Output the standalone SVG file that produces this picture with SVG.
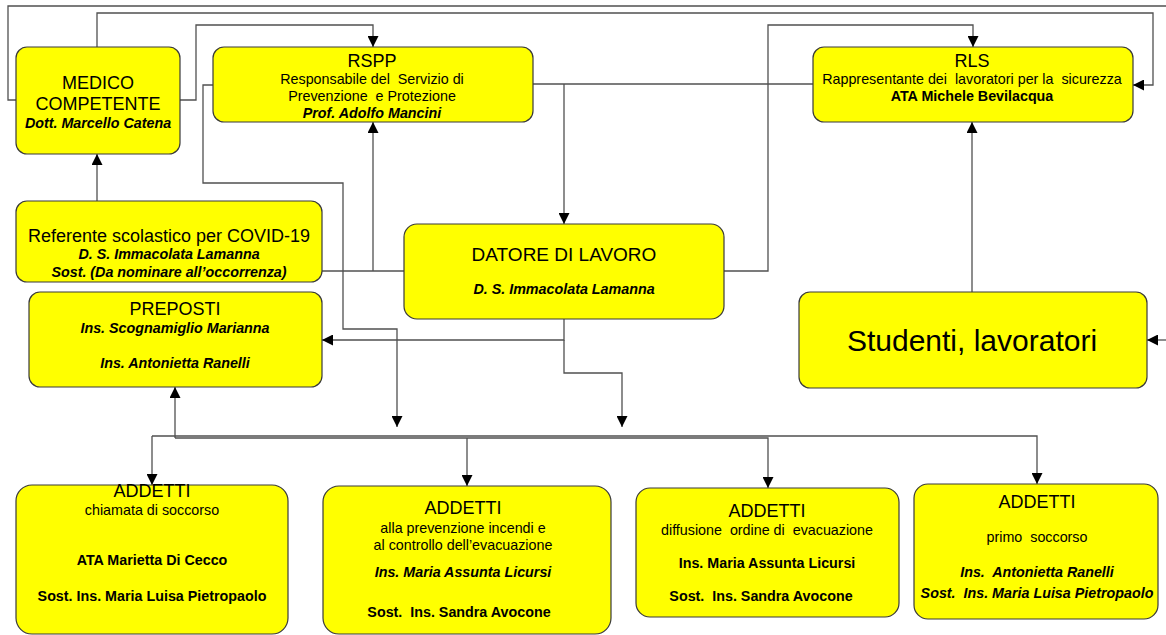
<svg xmlns="http://www.w3.org/2000/svg" width="1166" height="635" viewBox="0 0 1166 635">
<style>
.box{fill:#ffff00;stroke:#3a3a3a;stroke-width:1.2}
.ln{fill:none;stroke:#505050;stroke-width:1.3}
.ar{marker-end:url(#arr)}
text{font-family:"Liberation Sans",Arial,sans-serif;fill:#000;text-anchor:middle}
.h{font-size:18px}
.s{font-size:14.3px}
.b{font-size:14.3px;font-weight:bold}
.bi{font-size:14.3px;font-weight:bold;font-style:italic}
</style>
<defs>
<marker id="arr" viewBox="0 0 10 10" refX="10" refY="5" markerWidth="11" markerHeight="11" markerUnits="userSpaceOnUse" orient="auto">
<path d="M0,0 L10,5 L0,10 z" fill="#000"/>
</marker>
</defs>
<rect width="1166" height="635" fill="#fff"/>
<g id="connectors">
<path class="ln" d="M16,100 H8 V6 H1166"/>
<path class="ln ar" d="M180,100 H196 V25 H373 V47"/>
<path class="ln ar" d="M97,47 V13 H1153 V85 H1133"/>
<path class="ln ar" d="M97,201 V154"/>
<path class="ln ar" d="M213,85 H203 V183 H343 V329 H397 V427"/>
<path class="ln" d="M533,84 H813"/>
<path class="ln ar" d="M564,84 V224"/>
<path class="ln" d="M322,271 H404"/>
<path class="ln ar" d="M373,271 V122"/>
<path class="ln ar" d="M724,271 H768 V25 H973 V47"/>
<path class="ln ar" d="M972,292 V122"/>
<path class="ln ar" d="M1166,340 H1147"/>
<path class="ln ar" d="M564,319 V340 H322"/>
<path class="ln ar" d="M564,340 V373 H622 V427"/>
<path class="ln ar" d="M152,436 V485"/>
<path class="ln ar" d="M152,436 H1037 V484"/>
<path class="ln ar" d="M175,438 V387"/>
<path class="ln ar" d="M175,438 H768 V488"/>
<path class="ln ar" d="M467,438 V486"/>
</g>
<g id="medico">
<rect class="box" x="16" y="47" width="164" height="107" rx="11"/>
<text class="h" x="98" y="89">MEDICO</text>
<text class="h" x="98" y="110">COMPETENTE</text>
<text class="bi" x="98" y="128">Dott. Marcello Catena</text>
</g>
<g id="rspp">
<rect class="box" x="213" y="47" width="320" height="75" rx="11"/>
<text class="h" x="372" y="67">RSPP</text>
<text class="s" x="372" y="84" xml:space="preserve">Responsabile del  Servizio di</text>
<text class="s" x="372" y="101" xml:space="preserve">Prevenzione  e Protezione</text>
<text class="bi" x="372" y="118">Prof. Adolfo Mancini</text>
</g>
<g id="rls">
<rect class="box" x="813" y="47" width="320" height="75" rx="11"/>
<text class="h" x="972" y="67">RLS</text>
<text class="s" x="972" y="84" xml:space="preserve">Rappresentante dei  lavoratori per la  sicurezza</text>
<text class="b" x="972" y="101">ATA Michele Bevilacqua</text>
</g>
<g id="referente">
<rect class="box" x="16" y="201" width="306" height="81" rx="11"/>
<text class="h" x="169" y="242">Referente scolastico per COVID-19</text>
<text class="bi" x="169" y="259">D. S. Immacolata Lamanna</text>
<text class="bi" x="169" y="277">Sost. (Da nominare all’occorrenza)</text>
</g>
<g id="preposti">
<rect class="box" x="29" y="292" width="293" height="95" rx="11"/>
<text class="h" x="175" y="315">PREPOSTI</text>
<text class="bi" x="175" y="333">Ins. Scognamiglio Marianna</text>
<text class="bi" x="175" y="368">Ins. Antonietta Ranelli</text>
</g>
<g id="datore">
<rect class="box" x="404" y="224" width="320" height="95" rx="13"/>
<text x="564" y="261" style="font-size:19px">DATORE DI LAVORO</text>
<text class="bi" x="564" y="294">D. S. Immacolata Lamanna</text>
</g>
<g id="studenti">
<rect class="box" x="799" y="292" width="348" height="96" rx="11"/>
<text x="972" y="351" style="font-size:30px">Studenti, lavoratori</text>
</g>
<g id="addetti-chiamata">
<rect class="box" x="16" y="485" width="272" height="149" rx="16"/>
<text class="h" x="152" y="497">ADDETTI</text>
<text class="s" x="152" y="515">chiamata di soccorso</text>
<text class="b" x="152" y="565">ATA Marietta Di Cecco</text>
<text class="b" x="152" y="601">Sost. Ins. Maria Luisa Pietropaolo</text>
</g>
<g id="addetti-incendi">
<rect class="box" x="323" y="486" width="288" height="148" rx="16"/>
<text class="h" x="463" y="514">ADDETTI</text>
<text class="s" x="463" y="533">alla prevenzione incendi e</text>
<text class="s" x="463" y="550">al controllo dell’evacuazione</text>
<text class="bi" x="463" y="577">Ins. Maria Assunta Licursi</text>
<text class="b" x="459" y="617" xml:space="preserve">Sost.  Ins. Sandra Avocone</text>
</g>
<g id="addetti-diffusione">
<rect class="box" x="636" y="488" width="263" height="129" rx="14"/>
<text class="h" x="767" y="517">ADDETTI</text>
<text class="s" x="767" y="535" xml:space="preserve">diffusione  ordine di  evacuazione</text>
<text class="b" x="767" y="568">Ins. Maria Assunta Licursi</text>
<text class="b" x="761" y="601" xml:space="preserve">Sost.  Ins. Sandra Avocone</text>
</g>
<g id="addetti-primo">
<rect class="box" x="914" y="484" width="244" height="135" rx="14"/>
<text class="h" x="1037" y="508">ADDETTI</text>
<text class="s" x="1037" y="542" xml:space="preserve">primo  soccorso</text>
<text class="bi" x="1037" y="577" xml:space="preserve">Ins.  Antonietta Ranelli</text>
<text class="bi" x="1037" y="598" xml:space="preserve">Sost.  Ins. Maria Luisa Pietropaolo</text>
</g>
</svg>
